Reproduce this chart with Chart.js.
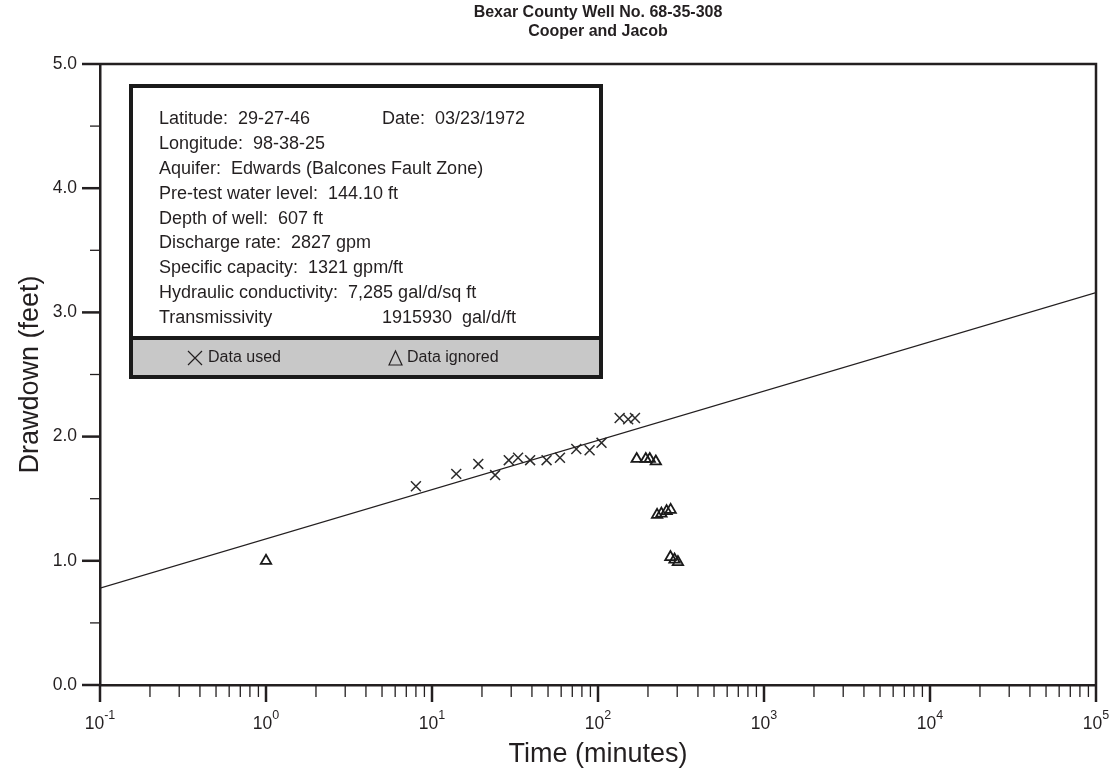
<!DOCTYPE html>
<html><head><meta charset="utf-8">
<script src="https://cdn.jsdelivr.net/npm/chart.js@4.4.1/dist/chart.umd.min.js"></script>
<style>html,body{margin:0;padding:0;background:#fff;}</style>
</head><body>
<canvas id="c" width="1118" height="778"></canvas>
<script>
// ---- data ----
const titleLines = ['Bexar County Well No. 68-35-308', 'Cooper and Jacob'];
const usedTime = [8, 14, 19, 24, 29, 33, 39, 49, 59, 74, 89, 105, 135, 152, 167];
const usedDrawdown = [1.60, 1.70, 1.78, 1.69, 1.81, 1.83, 1.81, 1.81, 1.83, 1.90, 1.89, 1.95, 2.15, 2.14, 2.15];
const ignoredTime = [1, 171, 194, 205, 223, 227, 241, 259, 274, 273, 289, 303];
const ignoredDrawdown = [1.00, 1.82, 1.82, 1.82, 1.80, 1.37, 1.38, 1.40, 1.41, 1.03, 1.01, 0.99];
const fitTime = [0.1, 100000];
const fitDrawdown = [0.78, 3.16];
const yTickValues = [0, 1, 2, 3, 4, 5];
const yMinorValues = [0.5, 1.5, 2.5, 3.5, 4.5];
const xDecades = [-1, 0, 1, 2, 3, 4, 5];
const infoLeft = ['Latitude:  29-27-46', 'Longitude:  98-38-25', 'Aquifer:  Edwards (Balcones Fault Zone)',
  'Pre-test water level:  144.10 ft', 'Depth of well:  607 ft', 'Discharge rate:  2827 gpm',
  'Specific capacity:  1321 gpm/ft', 'Hydraulic conductivity:  7,285 gal/d/sq ft', 'Transmissivity'];
const infoRight = ['Date:  03/23/1972', '', '', '', '', '', '', '', '1915930  gal/d/ft'];
const legendLabels = ['Data used', 'Data ignored'];

const FONT = "'Liberation Sans', Arial, Helvetica, sans-serif";
const INK = '#231f20';
Chart.defaults.font.family = FONT;
Chart.defaults.color = INK;

const pts = (xs, ys) => xs.map((x, i) => ({x: x, y: ys[i]}));

const decor = {
  id: 'decor',
  afterDraw(chart) {
    const ctx = chart.ctx;
    const a = chart.chartArea;
    const xs = chart.scales.x, ys = chart.scales.y;
    ctx.save();
    ctx.strokeStyle = INK;
    ctx.fillStyle = INK;
    // frame top & right
    ctx.lineWidth = 2.5;
    ctx.beginPath();
    ctx.moveTo(a.left, a.top); ctx.lineTo(a.right, a.top); ctx.lineTo(a.right, a.bottom);
    ctx.stroke();
    // y ticks
    yTickValues.forEach(v => {
      const p = ys.getPixelForValue(v);
      ctx.lineWidth = 2.5;
      ctx.beginPath(); ctx.moveTo(a.left - 18, p); ctx.lineTo(a.left, p); ctx.stroke();
    });
    yMinorValues.forEach(v => {
      const p = ys.getPixelForValue(v);
      ctx.lineWidth = 1.3;
      ctx.beginPath(); ctx.moveTo(a.left - 10, p); ctx.lineTo(a.left, p); ctx.stroke();
    });
    // x ticks + labels
    xDecades.forEach(d => {
      const base = Math.pow(10, d);
      const p = xs.getPixelForValue(base);
      ctx.lineWidth = 2.5;
      ctx.beginPath(); ctx.moveTo(p, a.bottom); ctx.lineTo(p, a.bottom + 17); ctx.stroke();
      if (d < 5) {
        for (let k = 2; k <= 9; k++) {
          const q = xs.getPixelForValue(k * base);
          ctx.lineWidth = 1.3;
          ctx.beginPath(); ctx.moveTo(q, a.bottom); ctx.lineTo(q, a.bottom + 12); ctx.stroke();
        }
      }
      // label 10^d
      ctx.font = '17.5px ' + FONT;
      const w1 = ctx.measureText('10').width;
      ctx.font = '12.5px ' + FONT;
      const e = String(d);
      const w2 = ctx.measureText(e).width;
      const x0 = p - (w1 + w2) / 2;
      ctx.textBaseline = 'alphabetic';
      ctx.textAlign = 'left';
      ctx.font = '17.5px ' + FONT;
      ctx.fillText('10', x0, a.bottom + 44);
      ctx.font = '12.5px ' + FONT;
      ctx.fillText(e, x0 + w1, a.bottom + 34);
    });
    // title
    ctx.textAlign = 'center';
    ctx.textBaseline = 'middle';
    ctx.font = 'bold 16px ' + FONT;
    const cx = (a.left + a.right) / 2;
    titleLines.forEach((t, i) => ctx.fillText(t, cx, 13 + i * 19));
    // info box
    const bx = 131, by = 86, bw = 470, sep = 338, bb = 377;
    ctx.fillStyle = '#fff';
    ctx.fillRect(bx, by, bw, sep - by);
    ctx.fillStyle = '#c8c8c8';
    ctx.fillRect(bx, sep, bw, bb - sep);
    ctx.strokeStyle = '#1a1a1a';
    ctx.lineWidth = 4;
    ctx.strokeRect(bx, by, bw, bb - by);
    ctx.beginPath(); ctx.moveTo(bx, sep); ctx.lineTo(bx + bw, sep); ctx.stroke();
    ctx.fillStyle = INK;
    ctx.textAlign = 'left';
    ctx.textBaseline = 'middle';
    ctx.font = '18px ' + FONT;
    infoLeft.forEach((t, i) => ctx.fillText(t, 159, 119 + i * 24.9));
    infoRight.forEach((t, i) => { if (t) ctx.fillText(t, 382, 119 + i * 24.9); });
    // legend row
    const ly = 358;
    ctx.strokeStyle = INK;
    ctx.lineWidth = 1.2;
    ctx.beginPath();
    ctx.moveTo(188, ly - 7); ctx.lineTo(202, ly + 7);
    ctx.moveTo(202, ly - 7); ctx.lineTo(188, ly + 7);
    ctx.stroke();
    ctx.beginPath();
    ctx.moveTo(389, ly + 7); ctx.lineTo(395.5, ly - 7); ctx.lineTo(402, ly + 7); ctx.closePath();
    ctx.stroke();
    ctx.font = '16px ' + FONT;
    ctx.fillText(legendLabels[0], 208, ly);
    ctx.fillText(legendLabels[1], 407, ly);
    ctx.restore();
  }
};

new Chart(document.getElementById('c'), {
  type: 'scatter',
  data: {
    datasets: [
      { label: 'fit', data: pts(fitTime, fitDrawdown), showLine: true, borderColor: INK,
        borderWidth: 1.2, pointRadius: 0, fill: false },
      { label: legendLabels[0], data: pts(usedTime, usedDrawdown), pointStyle: 'crossRot',
        pointRadius: 7, borderColor: '#2b2b2b', borderWidth: 1.5, backgroundColor: 'rgba(0,0,0,0)' },
      { label: legendLabels[1], data: pts(ignoredTime, ignoredDrawdown), pointStyle: 'triangle',
        pointRadius: 6, borderColor: '#1a1a1a', borderWidth: 1.8, backgroundColor: 'rgba(0,0,0,0)' }
    ]
  },
  options: {
    responsive: false,
    animation: false,
    devicePixelRatio: 1,
    layout: { padding: { top: 64, right: 22, bottom: 0, left: 0 } },
    plugins: { legend: { display: false }, tooltip: { enabled: false }, title: { display: false } },
    scales: {
      x: {
        type: 'logarithmic', min: 0.1, max: 100000, position: 'bottom',
        grid: { display: false, drawTicks: false },
        border: { display: true, width: 2.5, color: INK },
        ticks: { display: false },
        afterFit(s) { s.height = 93; },
        title: { display: true, text: 'Time (minutes)', color: INK,
          font: { family: FONT, size: 27 }, padding: { top: 0, bottom: 7 } }
      },
      y: {
        min: 0, max: 5,
        grid: { display: false, drawTicks: false },
        border: { display: true, width: 2.5, color: INK },
        ticks: { stepSize: 1, padding: 23, color: INK, font: { family: FONT, size: 17.5 },
          callback: v => Number(v).toFixed(1) },
        afterFit(s) { s.width = 100; },
        title: { display: true, text: 'Drawdown (feet)', color: INK,
          font: { family: FONT, size: 27 }, padding: { top: 14, bottom: 0 } }
      }
    }
  },
  plugins: [decor]
});
</script>
</body></html>
